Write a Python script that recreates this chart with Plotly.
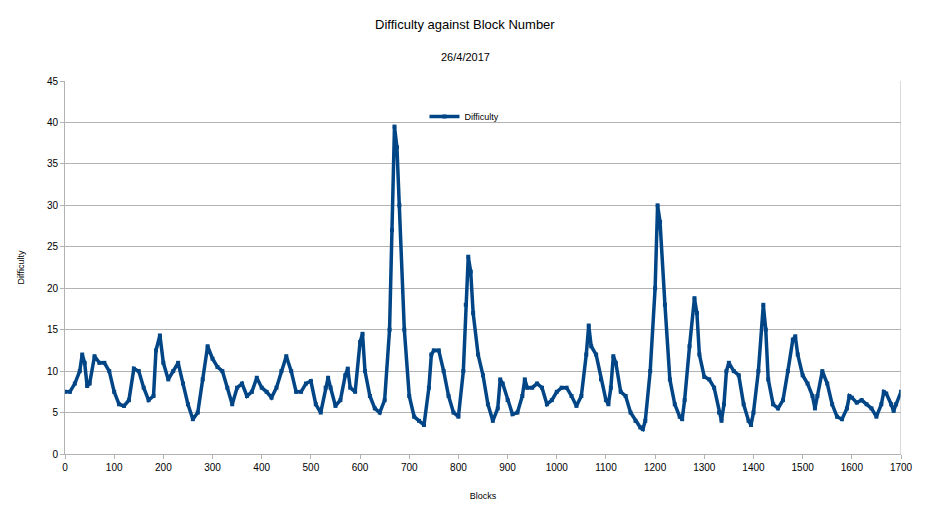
import plotly.graph_objects as go

blocks = [0, 10, 20, 30, 35, 40, 45, 50, 60, 70, 80, 90, 100, 110, 120, 130, 140, 150, 160, 170, 180, 185, 193,
          200, 210, 220, 230, 240, 250, 260, 270, 280, 290, 300, 310, 320, 330, 340, 350, 360, 370, 380, 390,
          400, 410, 420, 430, 440, 450, 460, 470, 480, 490, 500, 510, 520, 530, 535, 540, 550, 560, 570, 575,
          580, 590, 600, 605, 610, 620, 630, 640, 650, 660, 665, 670, 675, 680, 690, 700, 710, 720, 730, 740,
          745, 750, 760, 770, 780, 790, 800, 810, 815, 820, 825, 830, 840, 850, 860, 870, 880, 885, 890, 900,
          910, 920, 930, 935, 940, 950, 960, 970, 980, 990, 1000, 1010, 1020, 1030, 1040, 1050, 1060, 1065,
          1070, 1080, 1090, 1100, 1105, 1110, 1115, 1120, 1130, 1140, 1150, 1160, 1170, 1175, 1180, 1190, 1200,
          1205, 1210, 1220, 1230, 1240, 1250, 1255, 1260, 1270, 1280, 1285, 1290, 1300, 1310, 1320, 1330, 1335,
          1340, 1345, 1350, 1360, 1370, 1380, 1390, 1395, 1400, 1410, 1420, 1425, 1430, 1440, 1450, 1460, 1470,
          1480, 1485, 1490, 1500, 1510, 1520, 1525, 1530, 1540, 1550, 1560, 1570, 1580, 1590, 1595, 1600, 1610,
          1620, 1630, 1640, 1650, 1660, 1665, 1670, 1680, 1685, 1690, 1700]
difficulty = [7.5, 7.5, 8.5, 10, 12, 11, 8.2, 8.5, 11.8, 11, 11, 10, 7.5, 6, 5.8, 6.5, 10.3, 10, 8, 6.5, 7, 12.5, 14.3,
              11, 9, 10, 11, 8.5, 6, 4.2, 5, 9, 13, 11.5, 10.5, 10, 8, 6, 8, 8.5, 7, 7.5, 9.2,
              8, 7.5, 6.8, 8, 10, 11.8, 10, 7.5, 7.5, 8.5, 8.8, 6, 5, 8, 9.2, 8, 5.8, 6.5, 9.5, 10.3,
              8, 7.5, 13.5, 14.5, 10, 7, 5.5, 5, 6.5, 15, 27, 39.5, 37, 30, 15, 7, 4.5, 4, 3.5, 8,
              12, 12.5, 12.5, 10, 7, 5, 4.5, 10, 18, 23.8, 22, 17, 12, 9.5, 6, 4, 5.5, 9, 8.5, 6.5,
              4.8, 5, 7, 9, 8, 8, 8.5, 8, 6, 6.5, 7.5, 8, 8, 7, 5.8, 7, 12, 15.5,
              13, 12, 9, 6.5, 6, 8, 11.8, 11, 7.5, 7, 5, 4, 3.2, 3, 4, 10, 20,
              30, 28, 18, 9, 6, 4.5, 4.2, 6.5, 13, 18.8, 17, 12, 9.3, 9, 8, 5, 4,
              6, 10, 11, 10, 9.5, 6, 4, 3.5, 5, 10, 18, 15, 9, 6, 5.5, 6.5, 10,
              13.8, 14.2, 12, 9.5, 8.5, 7, 5.5, 7, 10, 8.5, 6, 4.5, 4.2, 5.5, 7, 6.8, 6.2,
              6.5, 6, 5.5, 4.5, 6, 7.5, 7.3, 6, 5.2, 6, 7.5]

fig = go.Figure(go.Scatter(
    x=blocks, y=difficulty, mode="lines+markers", name="Difficulty",
    line=dict(color="#004586", width=3.5),
    marker=dict(symbol="square", size=4, color="#004586"),
))

fig.update_layout(
    width=932, height=509,
    margin=dict(l=57, r=39, t=73, b=63),
    paper_bgcolor="white", plot_bgcolor="white",
    font=dict(family="Liberation Sans", size=10, color="black"),
    showlegend=True,
    legend=dict(x=0.43, y=0.905, xanchor="left", yanchor="middle", bgcolor="rgba(0,0,0,0)",
                font=dict(size=9)),
    xaxis=dict(range=[0, 1700], dtick=100, showgrid=False, linecolor="#b3b3b3",
               ticks="outside", tickcolor="#b3b3b3", ticklen=4, zeroline=False,
               title=dict(text="Blocks", font=dict(size=9), standoff=20)),
    yaxis=dict(range=[0, 45], dtick=5, gridcolor="#b3b3b3", linecolor="#b3b3b3",
               ticks="outside", tickcolor="#b3b3b3", ticklen=4, zeroline=False,
               title=dict(text="Difficulty", font=dict(size=9), standoff=20)),
    annotations=[
        dict(text="Difficulty against Block Number", x=(465 - 65) / 836, y=1 + (81 - 25) / 373,
             xref="paper", yref="paper", yanchor="middle", showarrow=False, font=dict(size=13)),
        dict(text="26/4/2017", x=(465 - 65) / 836, y=1 + (81 - 57) / 373,
             xref="paper", yref="paper", yanchor="middle", showarrow=False, font=dict(size=11)),
    ],
)
fig.add_shape(type="line", xref="x", yref="paper", x0=1700, x1=1700, y0=0, y1=1,
              line=dict(color="#b3b3b3", width=1))

fig.write_html("out.html")
